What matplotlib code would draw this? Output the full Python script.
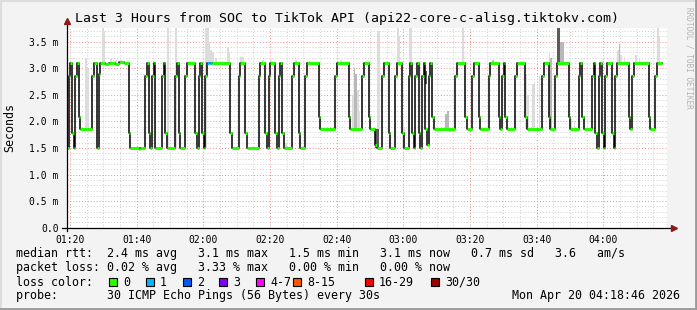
import matplotlib.pyplot as plt
from matplotlib.patches import Rectangle
from matplotlib.lines import Line2D

W, H = 697, 310
START = 79.1   # left edge, minutes after midnight (01:19:06)
SPAN = 180.0   # 3 hours

# -----------------------
# DATA
# -----------------------
# median rtt: minutes after left edge, value in ms (held until the next point)
med_t = [0.0, 0.5, 1.0, 1.5, 2.0, 2.5, 3.0, 3.5, 4.0, 7.5, 8.0, 9.0, 9.5, 10.0,
         11.5, 12.5, 14.5, 15.5, 17.0, 18.5, 19.0, 21.5, 22.0, 23.5, 24.0, 24.5,
         25.0, 25.5, 26.0, 26.5, 28.5, 29.0, 29.5, 30.0, 32.5, 33.0, 33.5, 34.0,
         35.5, 36.0, 38.5, 39.0, 39.5, 40.0, 40.5, 41.0, 41.5, 42.0, 49.0, 49.5,
         51.5, 52.0, 53.5, 54.0, 57.5, 58.0, 59.5, 60.0, 60.5, 61.0, 62.5, 63.0,
         63.5, 64.0, 64.5, 65.0, 67.5, 68.0, 69.5, 70.0, 71.5, 72.0, 75.5, 76.0,
         80.5, 81.0, 84.5, 85.0, 88.5, 89.0, 90.5, 91.0, 92.5, 93.0, 94.5, 95.0,
         96.5, 97.0, 98.5, 99.0, 100.5, 101.0, 102.5, 103.0, 103.5, 104.0, 104.5,
         105.0, 105.5, 106.0, 106.5, 107.0, 107.5, 108.0, 108.5, 109.0, 109.5,
         110.0, 116.5, 117.0, 119.5, 120.0, 121.5, 122.0, 123.5, 124.0, 126.5,
         127.0, 129.5, 130.0, 130.5, 131.0, 131.5, 132.0, 134.5, 135.0, 137.5,
         138.0, 142.5, 143.0, 144.5, 145.0, 146.5, 147.0, 150.5, 151.0, 153.5,
         154.0, 154.5, 155.0, 157.5, 158.0, 158.5, 159.0, 159.5, 160.0, 160.5,
         161.0, 161.5, 162.0, 163.5, 164.0, 164.5, 165.0, 168.5, 169.0, 169.5,
         170.0, 174.5, 175.0, 176.5, 177.0]
med_v = [1.50, 2.85, 3.10, 1.78, 1.50, 2.85, 3.10, 2.08, 1.85, 2.85, 3.10, 1.50, 2.90, 3.10,
         3.08, 3.11, 3.09, 3.12, 3.10, 1.78, 1.50, 1.48, 1.50, 2.85, 3.10, 1.78,
         1.50, 2.85, 3.10, 1.50, 2.85, 3.10, 1.78, 1.50, 2.85, 3.10, 1.78, 1.50,
         2.85, 3.10, 1.78, 1.50, 2.85, 3.10, 1.78, 1.50, 2.85, 3.10, 1.78, 1.50,
         2.85, 3.10, 1.78, 1.50, 2.85, 3.10, 1.78, 1.50, 2.85, 3.10, 1.78, 1.50,
         2.85, 3.10, 1.78, 1.50, 2.85, 3.10, 1.78, 1.50, 2.85, 3.10, 2.08, 1.85,
         2.85, 3.10, 2.08, 1.85, 2.85, 3.10, 2.08, 1.85, 1.55, 1.50, 2.85, 3.10,
         1.78, 1.50, 2.85, 3.10, 1.78, 1.50, 2.85, 3.10, 1.78, 1.50, 2.85,
         3.10, 1.78, 1.50, 2.85, 3.10, 1.85, 1.55, 2.85, 3.10, 2.08,
         1.85, 2.85, 3.10, 2.08, 1.85, 2.85, 3.10, 2.08, 1.85, 2.85,
         3.10, 2.08, 1.85, 2.85, 3.10, 2.08, 1.85, 2.85, 3.10, 2.08,
         1.85, 2.85, 3.10, 2.08, 1.85, 2.85, 3.10, 2.08, 1.85, 2.85,
         3.10, 2.08, 1.85, 2.85, 3.10, 1.78, 1.50, 2.85, 3.10, 1.78,
         1.50, 2.85, 3.10, 1.78, 1.50, 2.85, 3.10, 2.08, 1.85, 2.85,
         3.10, 2.08, 1.85, 2.85, 3.10]
med_end = 178.5

# 30s intervals with packet loss: start minute, loss colour index
loss_t = [42.0, 42.5, 43.0]
loss_i = [1, 1, 1]

# smoke (spread of the pings): start minute of 30s interval, low, high, shade
smoke_t = [5.5, 6.0, 10.5, 11.0, 13.0, 14.5, 16.0, 30.0, 32.5, 41.5, 42.0, 42.5, 43.0,
           43.5, 44.5, 48.0, 48.5, 52.0, 52.5, 58.5, 61.0, 65.5, 68.5, 72.5, 77.0,
           82.0, 85.5, 86.0, 86.5, 87.0, 87.5, 92.5, 93.0, 93.0, 93.5, 99.0, 99.5,
           100.5, 101.0, 102.5, 103.0, 107.5, 111.0, 113.5, 114.0, 118.5, 127.5,
           137.5, 138.0, 139.5, 140.0, 141.5, 144.5, 145.0, 147.0, 147.5, 148.0,
           148.5, 151.0, 152.0, 165.0, 165.5, 166.0, 167.0, 170.5, 171.5, 177.0, 177.5]
smoke_lo = [1.85, 1.85, 3.10, 3.10, 3.10, 3.10, 3.10, 1.50, 1.50, 1.50, 3.10, 3.10, 3.10,
            3.10, 3.10, 3.10, 3.10, 3.10, 3.10, 3.10, 3.10, 1.50, 3.10, 3.10, 1.85,
            3.10, 1.85, 1.85, 1.85, 1.85, 1.85, 1.50, 1.50, 1.85, 1.85, 3.10, 3.10,
            1.50, 1.50, 1.50, 3.10, 2.70, 1.85, 1.85, 1.85, 3.10, 3.10,
            1.85, 1.85, 1.85, 1.85, 1.85, 1.85, 1.85, 3.10, 3.10, 3.10,
            3.10, 1.85, 1.85, 3.10, 3.10, 3.10, 3.10, 3.10, 3.10, 3.10, 3.10]
smoke_hi = [3.20, 3.00, 3.80, 3.70, 3.17, 3.15, 3.16, 3.80, 3.80, 3.80, 3.80, 3.50, 3.35,
            3.30, 3.20, 3.40, 3.30, 3.22, 3.22, 3.15, 3.15, 1.60, 3.16, 3.14, 1.90,
            3.15, 2.50, 3.00, 2.90, 2.60, 2.20, 1.85, 1.85, 3.70, 3.70, 3.80, 3.60,
            2.00, 1.90, 3.80, 3.80, 2.95, 1.90, 2.15, 2.20, 3.80, 3.16,
            2.90, 2.50, 2.70, 2.75, 2.85, 3.30, 3.20, 3.80, 3.80, 3.50,
            3.50, 2.05, 2.00, 3.35, 3.45, 3.25, 3.20, 3.25, 3.20, 3.80, 3.60]
smoke_s = [0, 0, 0, 0, 0, 0, 0, 0, 0, 0, 0, 0, 0,
           0, 0, 0, 0, 0, 0, 0, 0, 0, 0, 0, 0,
           0, 0, 1, 1, 0, 0, 2, 2, 0, 0, 0, 0,
           0, 0, 0, 0, 2, 0, 1, 1, 0, 1,
           0, 0, 0, 0, 0, 0, 1, 2, 2, 1,
           1, 0, 0, 0, 1, 0, 0, 0, 0, 0, 0]
smoke_colors = ["#dcdcdc", "#b8b8b8", "#5a5a5a"]

loss_labels = ["0", "1", "2", "3", "4-7", "8-15", "16-29", "30/30"]
loss_colors = ["#26ff00", "#00b8ff", "#0059ff", "#7e00ff", "#ff00ff", "#ff5500",
               "#ff0000", "#a10000"]

title = "Last 3 Hours from SOC to TikTok API (api22-core-c-alisg.tiktokv.com)"
row_rtt = "median rtt:  2.4 ms avg   3.1 ms max   1.5 ms min   3.1 ms now   0.7 ms sd   3.6   am/s"
row_loss = "packet loss: 0.02 % avg   3.33 % max   0.00 % min   0.00 % now"
row_probe = "probe:       30 ICMP Echo Pings (56 Bytes) every 30s"
stamp = "Mon Apr 20 04:18:46 2026"

# -----------------------
# FIGURE
# -----------------------
plt.rcParams["font.family"] = ["DejaVu Sans Mono"]
fig = plt.figure(figsize=(W / 100, H / 100), dpi=100, facecolor="#f3f3f3")

def px(x, y):
    return x / W, 1 - y / H

ax = fig.add_axes([67 / W, (H - 227.7) / H, 600 / W, 199.7 / H])
ax.set_facecolor("white")
ax.set_xlim(START, START + SPAN)
ax.set_ylim(0, 3.76)

# grid
xmaj = list(range(80, 260, 20))
ax.set_xticks(xmaj)
ax.set_xticklabels([f"{m // 60:02d}:{m % 60:02d}" for m in xmaj])
ax.set_xticks(list(range(80, 260, 5)), minor=True)
ymaj = [i * 0.5 for i in range(8)]
ax.set_yticks(ymaj)
ax.set_yticklabels(["0.0"] + [f"{v:.1f} m" for v in ymaj[1:]])
ax.set_yticks([i * 0.1 for i in range(38)], minor=True)
ax.grid(which="minor", color="#cfcfcf", ls=(0, (1, 2)), lw=0.7)
ax.grid(which="major", color="#f08c8c", ls=(0, (1, 2)), lw=0.7)
ax.set_axisbelow(True)
ax.tick_params(which="both", length=0, labelsize=7)
ax.tick_params(axis="x", pad=5)
ax.tick_params(axis="y", pad=6)
for s in ax.spines.values():
    s.set_visible(False)

# smoke
for t, lo, hi, s in zip(smoke_t, smoke_lo, smoke_hi, smoke_s):
    ax.bar(START + t, hi - lo, width=0.5, bottom=lo, align="edge",
           color=smoke_colors[s], lw=0, zorder=2)

# median: black steps, loss-coloured levels on top
xs = [START + t for t in med_t] + [START + med_end]
ys = med_v + [med_v[-1]]
ax.step(xs, ys, where="post", color="black", lw=1.1, zorder=3)
for i, v in enumerate(med_v):
    t0 = med_t[i]
    t1 = med_t[i + 1] if i + 1 < len(med_t) else med_end
    # split segment by 30s loss intervals
    cuts = sorted({t0, t1} | {lt for lt in loss_t if t0 < lt < t1}
                  | {lt + 0.5 for lt in loss_t if t0 < lt + 0.5 < t1})
    for a, b in zip(cuts[:-1], cuts[1:]):
        c = loss_colors[0]
        for lt, li in zip(loss_t, loss_i):
            if lt <= a < lt + 0.5:
                c = loss_colors[li]
        ax.hlines(v, START + a, START + b, colors=c, lw=2.2, zorder=4)

# axes with arrows
ax.add_line(Line2D([0, 0], [-0.015, 1.03], transform=ax.transAxes, color="black",
                   lw=0.9, clip_on=False, zorder=5))
ax.add_line(Line2D([-0.008, 1.01], [0, 0], transform=ax.transAxes, color="black",
                   lw=0.9, clip_on=False, zorder=5))
ax.plot([0], [1.035], marker="^", ms=4.5, color="#8b1a1a", transform=ax.transAxes,
        clip_on=False, zorder=6)
ax.plot([1.012], [0], marker=">", ms=4.5, color="#8b1a1a", transform=ax.transAxes,
        clip_on=False, zorder=6)

# -----------------------
# TEXT
# -----------------------
fig.text(*px(347, 18.5), title, ha="center", va="center", fontsize=9.5)
fig.text(*px(10, 128), "Seconds", rotation=90, ha="center", va="center", fontsize=8.4)
fig.text(*px(689, 58), "RRDTOOL / TOBI OETIKER", rotation=270, ha="center",
         va="center", fontsize=5.6, color="#b4b4b4")

fig.text(*px(16, 254), row_rtt, va="center", fontsize=8.4)
fig.text(*px(16, 268), row_loss, va="center", fontsize=8.4)
fig.text(*px(16, 282), "loss color:", va="center", fontsize=8.4)
fig.text(*px(16, 296), row_probe, va="center", fontsize=8.4)
fig.text(*px(680, 296), stamp, ha="right", va="center", fontsize=8.4)

sq_x = [109, 146, 183, 219, 256, 293, 365, 431]
for x, lab, c in zip(sq_x, loss_labels, loss_colors):
    fig.add_artist(Rectangle(px(x, 286), 8 / W, 8 / H, transform=fig.transFigure,
                             facecolor=c, edgecolor="black", lw=0.8))
    fig.text(*px(x + 14, 282), lab, va="center", fontsize=8.4)

# frame
fig.add_artist(Line2D([0, 1], [1 - 1 / H, 1 - 1 / H], transform=fig.transFigure,
                      color="#dcdcdc", lw=1.5))
fig.add_artist(Line2D([1 / W, 1 / W], [0, 1], transform=fig.transFigure,
                      color="#dcdcdc", lw=1.5))
fig.add_artist(Line2D([0, 1], [1.5 / H, 1.5 / H], transform=fig.transFigure,
                      color="#9a9a9a", lw=2))
fig.add_artist(Line2D([1 - 1.5 / W, 1 - 1.5 / W], [0, 1], transform=fig.transFigure,
                      color="#9a9a9a", lw=2))

fig.savefig("out.png", dpi=100, facecolor=fig.get_facecolor())
